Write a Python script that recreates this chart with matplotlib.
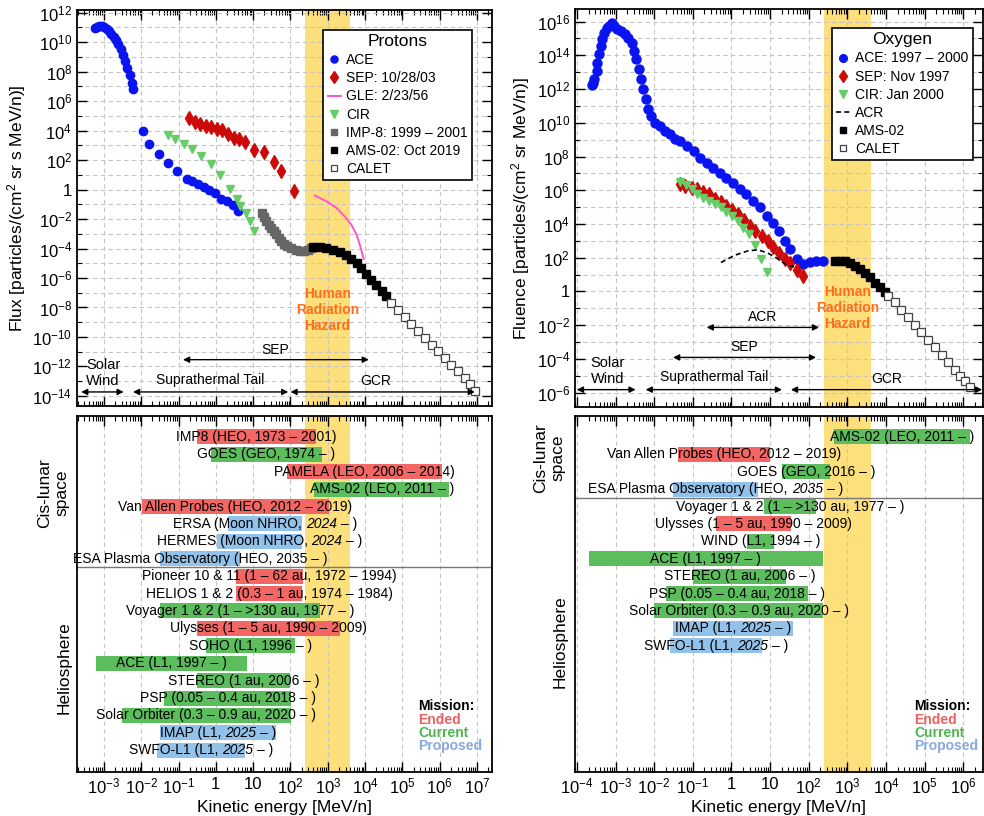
import numpy as np
import matplotlib
matplotlib.use('Agg')
import matplotlib.pyplot as plt
from matplotlib.ticker import FixedLocator, FuncFormatter, LogLocator, NullFormatter
from matplotlib.offsetbox import TextArea, HPacker, AnnotationBbox

plt.rcParams['font.family'] = ['Liberation Sans', 'DejaVu Sans']
plt.rcParams['mathtext.fontset'] = 'custom'
plt.rcParams['mathtext.rm'] = 'Liberation Sans'
plt.rcParams['mathtext.it'] = 'Liberation Sans:italic'
plt.rcParams['mathtext.bf'] = 'Liberation Sans:bold'
plt.rcParams['mathtext.default'] = 'regular'

# ---------------- protons (log10 E [MeV/n], log10 flux) ----------------
p_ace_sw_x = [-3.25, -3.19, -3.12, -3.05, -2.99, -2.93, -2.87, -2.80, -2.74, -2.68, -2.62, -2.55, -2.49, -2.43, -2.37, -2.30, -2.25, -2.21]
p_ace_sw_y = [10.93, 11.02, 11.06, 11.06, 11.02, 10.90, 10.75, 10.57, 10.34, 10.11, 9.84, 9.50, 9.12, 8.71, 8.26, 7.76, 7.24, 6.79]
p_ace_x = [-1.94, -1.78, -1.53, -1.28, -1.03, -0.77, -0.63, -0.48, -0.33, -0.18, -0.03, 0.15, 0.31, 0.46, 0.59]
p_ace_y = [3.96, 3.12, 2.38, 1.81, 1.29, 0.72, 0.57, 0.38, 0.16, 0.0, -0.23, -0.63, -0.75, -1.02, -1.47]
p_sep_x = [-0.73, -0.57, -0.42, -0.27, -0.12, 0.03, 0.17, 0.33, 0.49, 0.62, 0.77, 1.02, 1.29, 1.55, 1.75, 2.09]
p_sep_y = [4.86, 4.59, 4.46, 4.30, 4.23, 4.12, 4.03, 3.78, 3.51, 3.46, 3.21, 2.71, 2.56, 1.88, 1.29, -0.11]
p_gle_x = [2.65, 2.96, 3.23, 3.45, 3.63, 3.77, 3.87, 3.96]
p_gle_y = [-0.41, -0.79, -1.24, -1.81, -2.38, -3.05, -3.85, -4.71]
p_cir_x = [-1.28, -1.09, -0.86, -0.64, -0.39, -0.14, 0.12, 0.37, 0.57, 0.65, 0.80, 0.91, 1.02]
p_cir_y = [3.73, 3.44, 3.10, 2.76, 2.26, 1.70, 0.97, 0.05, -0.63, -1.09, -1.58, -2.15, -2.78]
p_imp_x = [1.24, 1.29, 1.35, 1.42, 1.49, 1.56, 1.62, 1.69, 1.75, 1.83, 1.91, 2.02, 2.14, 2.25, 2.36, 2.47, 2.56]
p_imp_y = [-1.58, -1.88, -2.15, -2.38, -2.60, -2.83, -3.05, -3.28, -3.51, -3.69, -3.85, -3.96, -4.07, -4.14, -4.14, -4.07, -3.96]
p_ams_x = [2.60, 2.78, 2.96, 3.14, 3.32, 3.50, 3.63, 3.77, 3.90, 4.03, 4.17, 4.28, 4.44, 4.57]
p_ams_y = [-3.89, -3.89, -3.96, -4.07, -4.23, -4.46, -4.68, -4.98, -5.32, -5.72, -6.11, -6.45, -6.86, -7.24]
p_calet_x = [4.70, 4.88, 5.06, 5.24, 5.42, 5.60, 5.78, 5.95, 6.13, 6.31, 6.49, 6.67, 6.80, 6.94]
p_calet_y = [-7.69, -8.14, -8.67, -9.12, -9.62, -10.07, -10.52, -10.97, -11.43, -11.88, -12.33, -12.78, -13.19, -13.64]

# ---------------- oxygen ----------------
o_ace_x = [-3.62, -3.59, -3.55, -3.49, -3.47, -3.43, -3.38, -3.34, -3.29, -3.23, -3.17, -3.10, -3.03, -2.95, -2.86,
           -2.76, -2.67, -2.58, -2.52, -2.46, -2.40, -2.34, -2.28, -2.22, -2.15, -2.08, -1.98, -1.85, -1.72, -1.59,
           -1.46, -1.33, -1.16, -0.98, -0.82, -0.64, -0.47, -0.30, -0.13, 0.05, 0.22, 0.39, 0.56, 0.74, 0.91, 1.08,
           1.23, 1.38, 1.51, 1.69, 1.86, 2.03, 2.20, 2.38]
o_ace_y = [12.22, 12.38, 12.58, 13.07, 13.56, 14.06, 14.55, 14.95, 15.34, 15.64, 15.77, 15.89, 15.77, 15.58, 15.44,
           15.24, 15.04, 14.75, 14.25, 13.76, 13.17, 12.58, 11.98, 11.39, 10.80, 10.40, 10.01, 9.81, 9.52, 9.32,
           9.02, 8.92, 8.63, 8.33, 7.94, 7.64, 7.34, 7.05, 6.75, 6.46, 6.10, 5.77, 5.37, 4.98, 4.48, 4.09,
           3.59, 3.00, 2.51, 1.92, 1.62, 1.72, 1.82, 1.82]
o_sep_x = [-1.33, -1.19, -1.03, -0.89, -0.73, -0.58, -0.43, -0.27, -0.13, 0.02, 0.18, 0.33, 0.48, 0.62, 0.78, 0.94, 1.08, 1.23, 1.38, 1.51, 1.69, 1.86]
o_sep_y = [6.36, 6.26, 6.16, 6.06, 5.90, 5.77, 5.51, 5.31, 5.07, 4.84, 4.58, 4.23, 3.89, 3.59, 3.30, 3.00, 2.61, 2.31, 1.92, 1.66, 1.28, 0.89]
o_cir_x = [-1.33, -1.18, -1.03, -0.88, -0.73, -0.57, -0.43, -0.27, -0.13, 0.02, 0.18, 0.31, 0.46, 0.62, 0.76, 0.91]
o_cir_y = [6.50, 6.30, 6.10, 5.77, 5.57, 5.37, 5.17, 4.98, 4.72, 4.48, 4.19, 3.79, 3.40, 2.74, 1.95, 1.16]
o_acr_x = [-0.27, 0.09, 0.43, 0.69, 0.95, 1.21, 1.43, 1.64]
o_acr_y = [1.72, 2.15, 2.41, 2.47, 2.27, 1.92, 1.56, 1.46]
o_ams_x = [2.68, 2.81, 2.94, 3.07, 3.20, 3.33, 3.45, 3.58, 3.71, 3.84, 3.97]
o_ams_y = [1.82, 1.82, 1.78, 1.68, 1.52, 1.32, 1.09, 0.83, 0.53, 0.24, -0.06]
o_calet_x = [4.06, 4.23, 4.40, 4.58, 4.75, 4.92, 5.09, 5.27, 5.44, 5.61, 5.78, 5.91, 6.04, 6.17]
o_calet_y = [-0.26, -0.65, -1.09, -1.54, -1.99, -2.43, -2.86, -3.32, -3.77, -4.21, -4.64, -5.00, -5.29, -5.69]

# ---------------- missions (energy range in MeV/n), *...* = italic ----------------
p_mis_names = ["IMP8 (HEO, 1973 – 2001)", "GOES (GEO, 1974 – )", "PAMELA (LEO, 2006 – 2014)",
               "AMS-02 (LEO, 2011 – )", "Van Allen Probes (HEO, 2012 – 2019)",
               "ERSA (Moon NHRO, *2024* – )", "HERMES (Moon NHRO, *2024* – )",
               "ESA Plasma Observatory (HEO, 2035 – )", "Pioneer 10 & 11 (1 – 62 au, 1972 – 1994)",
               "HELIOS 1 & 2 (0.3 – 1 au, 1974 – 1984)", "Voyager 1 & 2 (1 – >130 au, 1977 – )",
               "Ulysses (1 – 5 au, 1990 – 2009)", "SOHO (L1, 1996 – )", "ACE (L1, 1997 – )",
               "STEREO (1 au, 2006 – )", "PSP (0.05 – 0.4 au, 2018 – )",
               "Solar Orbiter (0.3 – 0.9 au, 2020 – )", "IMAP (L1, *2025* – )",
               "SWFO-L1 (L1, *2025* – )"]
p_mis_lo = [0.31, 0.74, 80, 430, 0.0105, 2.1, 1.07, 0.032, 3.5, 3.5, 0.032, 0.31, 0.54, 6e-4, 0.31, 0.041, 0.003, 0.032, 0.026]
p_mis_hi = [480, 700, 1.15e6, 1.8e6, 1070, 205, 205, 4.5, 220, 205, 620, 2100, 130, 6.8, 98, 103, 103, 41, 6.0]
p_mis_status = ['ended', 'current', 'ended', 'current', 'ended', 'proposed', 'proposed', 'proposed',
                'ended', 'ended', 'current', 'ended', 'current', 'current', 'current', 'current', 'current',
                'proposed', 'proposed']

o_mis_names = ["AMS-02 (LEO, 2011 – )", "Van Allen Probes (HEO, 2012 – 2019)", "GOES (GEO, 2016 – )",
               "ESA Plasma Observatory (HEO, *2035* – )", "Voyager 1 & 2 (1 – >130 au, 1977 – )",
               "Ulysses (1 – 5 au, 1990 – 2009)", "WIND (L1, 1994 – )", "ACE (L1, 1997 – )",
               "STEREO (1 au, 2006 – )", "PSP (0.05 – 0.4 au, 2018 – )",
               "Solar Orbiter (0.3 – 0.9 au, 2020 – )", "IMAP (L1, *2025* – )",
               "SWFO-L1 (L1, *2025* – )"]
o_mis_lo = [460, 0.042, 20, 0.031, 7, 0.4, 2.5, 2e-4, 0.1, 0.02, 0.01, 0.031, 0.025]
o_mis_hi = [1.5e6, 10, 355, 4.9, 155, 35, 12.6, 235, 26, 95, 235, 40, 6.2]
o_mis_status = ['current', 'ended', 'current', 'proposed', 'current', 'ended', 'current', 'current',
                'current', 'current', 'current', 'proposed', 'proposed']

hazard = (250, 4000)

bar_col = {'ended': '#f26664', 'current': '#5cbd5c', 'proposed': '#92c2ea'}
leg_col = {'ended': '#ee6060', 'current': '#4db54d', 'proposed': '#88a8e0'}
yellow = '#fde07c'
orange = '#ff6e1e'


def L(a):
    return 10 ** np.asarray(a, dtype=float)


def efmt(v, pos):
    n = int(round(np.log10(v)))
    if n == 0:
        return '1'
    if n == 1:
        return '10'
    return r'$10^{%d}$' % n


def style_x(ax, xlim):
    ax.set_xscale('log')
    ax.set_xlim(L(xlim[0]), L(xlim[1]))
    ax.xaxis.set_major_locator(LogLocator(base=10, numticks=30))
    ax.xaxis.set_minor_locator(LogLocator(base=10, subs=np.arange(2, 10), numticks=30))
    ax.xaxis.set_major_formatter(FuncFormatter(efmt))
    ax.xaxis.set_minor_formatter(NullFormatter())
    ax.tick_params(which='both', direction='in', top=True, bottom=True, labelsize=12)
    ax.tick_params(which='major', length=7, width=1)
    ax.tick_params(which='minor', length=3.5, width=0.8)
    ax.xaxis.grid(True, which='major', color='#c4c4c4', ls=(0, (4, 3)), lw=0.8)
    ax.axvspan(hazard[0], hazard[1], color=yellow, zorder=0, lw=0)
    for s in ax.spines.values():
        s.set_linewidth(1.3)
    ax.set_axisbelow(True)


def style_top(ax, xlim, ylim, ymaj):
    style_x(ax, xlim)
    ax.set_yscale('log')
    ax.set_ylim(L(ylim[0]), L(ylim[1]))
    ax.yaxis.set_major_locator(FixedLocator(L(ymaj)))
    ax.yaxis.set_minor_locator(FixedLocator(L(np.array(ymaj) + 1)))
    ax.yaxis.set_major_formatter(FuncFormatter(efmt))
    ax.yaxis.set_minor_formatter(NullFormatter())
    ax.tick_params(which='both', left=True, right=True, labelbottom=False)
    ax.yaxis.grid(True, which='both', color='#c4c4c4', ls=(0, (4, 3)), lw=0.8)


def darrow(ax, x0, x1, y):
    ax.annotate('', xy=(L(x1), L(y)), xytext=(L(x0), L(y)),
                arrowprops=dict(arrowstyle='<|-|>', color='k', lw=1.0, mutation_scale=9,
                                shrinkA=0, shrinkB=0), zorder=4)


def lbl(ax, x, y, s, size=10):
    ax.text(L(x), L(y), s, ha='center', va='center', fontsize=size, zorder=4)


def mixed_text(ax, x, y, s):
    # label with italic parts between '*'
    if '*' not in s:
        ax.text(x, y, s, ha='center', va='center', fontsize=10, zorder=3)
        return
    parts = [p.strip() for p in s.split('*')]
    boxes = []
    for k, p in enumerate(parts):
        if p:
            boxes.append(TextArea(p, textprops=dict(fontsize=10, style='italic' if k % 2 else 'normal')))
    pack = HPacker(children=boxes, pad=0, sep=2.8, align='baseline')
    ab = AnnotationBbox(pack, (x, y), xycoords='data', frameon=False, pad=0,
                        box_alignment=(0.5, 0.5), zorder=3)
    ax.add_artist(ab)


def legend(ax, anchor, title):
    leg = ax.legend(loc='upper right', bbox_to_anchor=anchor, title=title, fontsize=10,
                    title_fontsize=12.5, frameon=True, fancybox=False, framealpha=1, edgecolor='black',
                    handlelength=1.0, handletextpad=0.35, labelspacing=0.3, borderpad=0.3,
                    borderaxespad=0, markerscale=0.85)
    leg.get_frame().set_linewidth(1.2)


def missions(ax, names, lo, hi, status):
    for i, (n, a, b, s) in enumerate(zip(names, lo, hi, status)):
        ax.barh(i, b - a, left=a, height=0.86, color=bar_col[s], lw=0, zorder=2)
        mixed_text(ax, np.sqrt(a * b), i, n)
    ax.set_ylim(19.25, -1.2)
    ax.tick_params(left=False, labelleft=False)
    ax.set_xlabel('Kinetic energy [MeV/n]', fontsize=12.5, labelpad=2)


def mission_key(ax, x):
    ax.text(x, 0.185, 'Mission:', transform=ax.transAxes, fontsize=10, fontweight='bold', va='center')
    for s, y, c in zip(['Ended', 'Current', 'Proposed'], [0.147, 0.110, 0.073], ['ended', 'current', 'proposed']):
        ax.text(x, y, s, transform=ax.transAxes, fontsize=10, fontweight='bold', va='center', color=leg_col[c])


fig = plt.figure(figsize=(9.84, 8.16), dpi=100)

# ======================= left: protons =======================
ax1 = fig.add_axes([0.0783, 0.5025, 0.4217, 0.4853])
style_top(ax1, (-3.72, 7.4), (-14.68, 12.18), list(range(-14, 13, 2)))
ax1.plot(L(p_ace_sw_x), L(p_ace_sw_y), 'o', color='#0a14f0', ms=6, zorder=3, label='ACE')
ax1.plot(L(p_ace_x), L(p_ace_y), 'o', color='#0a14f0', ms=6, zorder=3)
ax1.plot(L(p_sep_x), L(p_sep_y), 'd', color='#cc0a0a', ms=7, zorder=3, label='SEP: 10/28/03')
ax1.plot(L(p_gle_x), L(p_gle_y), '-', color='#ff55cc', lw=1.4, zorder=3, label='GLE: 2/23/56')
ax1.plot(L(p_cir_x), L(p_cir_y), 'v', color='#66cc66', ms=6, zorder=3, label='CIR')
ax1.plot(L(p_imp_x), L(p_imp_y), 's', color='#666666', ms=5.5, zorder=3, label='IMP-8: 1999 – 2001')
ax1.plot(L(p_ams_x), L(p_ams_y), 's', color='black', ms=5.5, zorder=3, label='AMS-02: Oct 2019')
ax1.plot(L(p_calet_x), L(p_calet_y), 's', mfc='white', mec='#444444', mew=0.9, ms=5.5, zorder=3, label='CALET')
ax1.set_ylabel('Flux [particles/(cm$^2$ sr s MeV/n)]', fontsize=12.5)
ax1.yaxis.set_label_coords(-0.118, 0.5)
legend(ax1, (0.952, 0.95), 'Protons')

lbl(ax1, -3.02, -12.44, 'Solar\nWind', 10.5)
darrow(ax1, -3.61, -2.47, -13.73)
lbl(ax1, -0.15, -12.9, 'Suprathermal Tail')
darrow(ax1, -2.22, 1.94, -13.73)
lbl(ax1, 4.28, -13.0, 'GCR')
darrow(ax1, 2.0, 6.94, -13.73)
lbl(ax1, 1.6, -10.86, 'SEP')
darrow(ax1, -0.88, 4.10, -11.54)
ax1.text(L(2.99), L(-8.19), 'Human\nRadiation\nHazard', ha='center', va='center', fontsize=10,
         fontweight='bold', color=orange, zorder=4)

ax2 = fig.add_axes([0.0783, 0.0539, 0.4217, 0.4363])
style_x(ax2, (-3.72, 7.4))
missions(ax2, p_mis_names, p_mis_lo, p_mis_hi, p_mis_status)
ax2.axhline(7.5, color='#777777', lw=1.0, zorder=2)
ax2.text(-0.058, 0.784, 'Cis-lunar\nspace', transform=ax2.transAxes, rotation=90, ha='center',
         va='center', fontsize=12.5)
ax2.text(-0.031, 0.292, 'Heliosphere', transform=ax2.transAxes, rotation=90, ha='center',
         va='center', fontsize=12.5)
mission_key(ax2, 0.822)

# ======================= right: oxygen =======================
ax3 = fig.add_axes([0.5843, 0.5012, 0.4146, 0.4878])
style_top(ax3, (-4.05, 6.51), (-6.85, 16.75), list(range(-6, 17, 2)))
ax3.plot(L(o_ace_x), L(o_ace_y), 'o', color='#0a14f0', ms=6.5, zorder=3, label='ACE: 1997 – 2000')
ax3.plot(L(o_sep_x), L(o_sep_y), 'd', color='#cc0a0a', ms=7, zorder=3, label='SEP: Nov 1997')
ax3.plot(L(o_cir_x), L(o_cir_y), 'v', color='#66cc66', ms=6, zorder=3, label='CIR: Jan 2000')
ax3.plot(L(o_acr_x), L(o_acr_y), color='black', ls=(0, (3, 2)), lw=1.2, zorder=3, label='ACR')
ax3.plot(L(o_ams_x), L(o_ams_y), 's', color='black', ms=5.5, zorder=3, label='AMS-02')
ax3.plot(L(o_calet_x), L(o_calet_y), 's', mfc='white', mec='#444444', mew=0.9, ms=5.5, zorder=3, label='CALET')
ax3.set_ylabel('Fluence [particles/(cm$^2$ sr MeV/n)]', fontsize=12.5)
ax3.yaxis.set_label_coords(-0.105, 0.5)
legend(ax3, (0.975, 0.952), 'Oxygen')

lbl(ax3, -3.21, -4.7, 'Solar\nWind', 10.5)
darrow(ax3, -4.0, -2.48, -5.82)
lbl(ax3, -0.45, -5.09, 'Suprathermal Tail')
darrow(ax3, -2.22, 1.31, -5.82)
lbl(ax3, 4.03, -5.19, 'GCR')
darrow(ax3, 1.54, 6.49, -5.82)
lbl(ax3, 0.33, -3.32, 'SEP')
darrow(ax3, -1.51, 2.19, -3.91)
lbl(ax3, 0.81, -1.54, 'ACR')
darrow(ax3, -0.64, 2.27, -2.13)
ax3.text(L(3.0), L(-0.99), 'Human\nRadiation\nHazard', ha='center', va='center', fontsize=10,
         fontweight='bold', color=orange, zorder=4)

ax4 = fig.add_axes([0.5843, 0.0539, 0.4146, 0.4363])
style_x(ax4, (-4.05, 6.51))
missions(ax4, o_mis_names, o_mis_lo, o_mis_hi, o_mis_status)
ax4.axhline(3.5, color='#777777', lw=1.0, zorder=2)
ax4.text(-0.064, 0.882, 'Cis-lunar\nspace', transform=ax4.transAxes, rotation=90, ha='center',
         va='center', fontsize=12.5)
ax4.text(-0.037, 0.365, 'Heliosphere', transform=ax4.transAxes, rotation=90, ha='center',
         va='center', fontsize=12.5)
mission_key(ax4, 0.831)

fig.savefig('out.png', dpi=100)
